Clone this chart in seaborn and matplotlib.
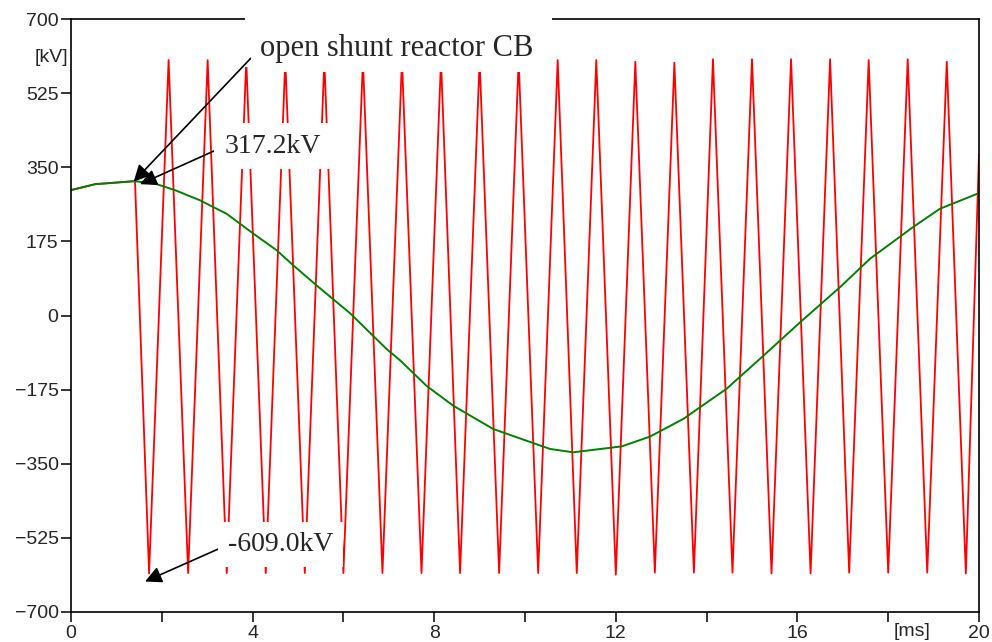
import pandas as pd
import seaborn as sns
import matplotlib.pyplot as plt
from matplotlib.patches import Rectangle
from matplotlib.ticker import MultipleLocator

# --- values (time in ms, voltage in kV) ---
# green: source side voltage
green_t = [0.0, 0.53, 1.41, 1.89, 2.29, 2.84, 3.43, 4.02, 4.53, 4.90, 5.41,
           6.15, 6.95, 7.25, 7.83, 8.42, 9.30, 10.55, 11.06, 12.13, 12.75,
           13.49, 13.85, 14.44, 15.21, 16.06, 16.94, 17.60, 18.55, 19.14, 20.0]
green_v = [296, 310, 317.2, 310, 296, 272, 240, 193, 154, 118, 71,
           5, -79, -106, -166, -213, -268, -315, -323, -309, -286,
           -244, -217, -173, -99, -16, 67, 134, 209, 252, 289]

# red: reactor side voltage, same as source until the CB opens
red_pre_t = [0.0, 0.53, 1.41]
red_pre_v = [296, 310, 317.2]

trough_t = [1.72, 2.58, 3.43, 4.29, 5.15, 6.00, 6.86, 7.72, 8.57, 9.43, 10.29,
            11.14, 12.00, 12.86, 13.72, 14.57, 15.43, 16.29, 17.14, 18.00,
            18.86, 19.71]
trough_v = [-609, -608, -608, -608, -608, -608, -608, -608, -608, -608, -608,
            -608, -612, -607, -607, -607, -609, -609, -607, -607, -607, -609]

peak_t = [2.15, 3.01, 3.86, 4.72, 5.58, 6.43, 7.29, 8.15, 9.00, 9.86, 10.72,
          11.57, 12.43, 13.29, 14.14, 15.00, 15.86, 16.72, 17.57, 18.43, 19.29]
peak_v = [603, 603, 603, 603, 603, 603, 603, 603, 603, 603, 603,
          603, 599, 597, 605, 605, 605, 605, 603, 605, 599]

red_end_t = [20.0]
red_end_v = [380]

y_ticks = [-700, -525, -350, -175, 0, 175, 350, 525, 700]
x_ticks = [0, 4, 8, 12, 16, 20]

red = pd.DataFrame({
    "t": red_pre_t + trough_t + peak_t + red_end_t,
    "v": red_pre_v + trough_v + peak_v + red_end_v,
}).sort_values("t")
green = pd.DataFrame({"t": green_t, "v": green_v})

sns.set_style("ticks")
plt.rcParams["font.family"] = ["Liberation Sans", "DejaVu Sans"]

fig = plt.figure(figsize=(9.92, 6.42), dpi=100)
ax = fig.add_axes([71 / 992, 1 - 612 / 642, 908 / 992, 593 / 642])

sns.lineplot(data=red, x="t", y="v", color="#ff0000", lw=1.3, sort=False,
             estimator=None, ax=ax)
sns.lineplot(data=green, x="t", y="v", color="#008000", lw=1.4, sort=False,
             estimator=None, ax=ax)

ax.set_xlim(0, 20)
ax.set_ylim(-700, 700)
ax.set_xticks(x_ticks)
ax.xaxis.set_minor_locator(MultipleLocator(2))
ax.set_yticks(y_ticks)
ax.set_xlabel("")
ax.set_ylabel("")
ax.tick_params(which="both", direction="out", length=7, width=1.1,
               labelsize=14, pad=2, color="black")
for sp in ax.spines.values():
    sp.set_linewidth(1.2)
    sp.set_color("black")

fig.text(68 / 992, 1 - 57 / 642, "[kV]", ha="right", va="center", fontsize=14)
fig.text(912 / 992, 1 - 632 / 642, "[ms]", ha="center", va="center", fontsize=14)

# white area behind the title-like note, it also hides part of the top frame
ax.add_patch(Rectangle((245 / 992, 1 - 67 / 642), 307 / 992, 67 / 642,
                       transform=fig.transFigure, fc="white", ec="none",
                       zorder=4, clip_on=False))

arrow = dict(arrowstyle="-|>", color="black", lw=1.2, mutation_scale=25,
             shrinkA=0, shrinkB=0, relpos=(0, 0.5))
serif = ["Liberation Serif", "DejaVu Serif"]

ax.annotate("open shunt reactor CB", xy=(1.38, 316), xytext=(4.16, 630),
            ha="left", va="center", fontsize=22, family=serif,
            bbox=dict(boxstyle="square,pad=0.3", fc="white", ec="none"),
            arrowprops=arrow, annotation_clip=False, zorder=5)
ax.annotate("317.2kV", xy=(1.52, 310), xytext=(3.39, 400),
            ha="left", va="center", fontsize=20, family=serif,
            bbox=dict(boxstyle="square,pad=0.38", fc="white", ec="none"),
            arrowprops=arrow, zorder=5)
ax.annotate("-609.0kV", xy=(1.63, -628), xytext=(3.46, -541),
            ha="left", va="center", fontsize=20, family=serif,
            bbox=dict(boxstyle="square,pad=0.36", fc="white", ec="none"),
            arrowprops=arrow, zorder=5)

fig.savefig("out.png", dpi=100)
